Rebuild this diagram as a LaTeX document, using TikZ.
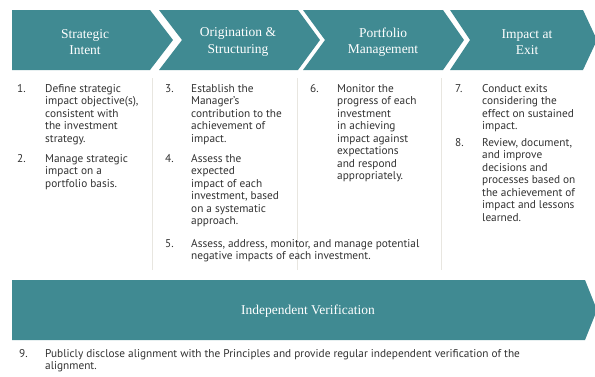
\documentclass[tikz,border=0pt]{standalone}
\usepackage{fontspec}
\setmainfont{PT Sans}
\newfontfamily\headfont{Liberation Serif}
\definecolor{teal1}{RGB}{64,138,146}
\definecolor{bodytxt}{RGB}{50,50,50}
\definecolor{divline}{RGB}{232,230,224}
\newcommand\itemtext[1]{\parbox[t]{300pt}{\raggedright #1}}
\tikzset{
  chev/.style={fill=teal1, draw=none},
  head/.style={text=white, font=\headfont\fontsize{13.5}{16.5}\selectfont, align=center, inner sep=0pt},
  num/.style={anchor=base west, inner sep=0pt, text=bodytxt, font=\fontsize{11.3}{12.5}\selectfont},
  item/.style={anchor=base west, inner sep=0pt, text=bodytxt, font=\fontsize{11.3}{12.5}\selectfont},
  divider/.style={draw=divline, line width=0.8pt}
}
\begin{document}
\begin{tikzpicture}[x=1pt,y=-1pt]
\useasboundingbox (0,0) rectangle (595,376);
% header chevrons
\path[chev] (12,10) -- (150,10) -- (173,40) -- (150,70) -- (12,70) -- cycle;
\path[chev] (159,10) -- (298,10) -- (320,40) -- (298,70) -- (159,70) -- (182,40) -- cycle;
\path[chev] (303,10) -- (443,10) -- (464,40) -- (443,70) -- (303,70) -- (325,40) -- cycle;
\path[chev] (450,10) -- (583,10) -- (597,40) -- (583,70) -- (450,70) -- (470,40) -- cycle;
\node[head] (h1) at (85,42) {Strategic\\Intent};
\node[head] (h2) at (238,42) {Origination \&\\Structuring};
\node[head] (h3) at (383,42) {Portfolio\\Management};
\node[head] (h4) at (527,42) {Impact at\\Exit};
% dividers
\coordinate (d1t) at (152,78); \coordinate (d1b) at (152,270);
\coordinate (d2t) at (297,78); \coordinate (d2b) at (297,270);
\coordinate (d3t) at (441,78); \coordinate (d3b) at (441,270);
\draw[divider] (d1t) -- (d1b);
\draw[divider] (d2t) -- (d2b);
\draw[divider] (d3t) -- (d3b);
% column 1
\node[num] (n1) at (17,92) {1.};
\node[item] (t1) at (45,92) {\itemtext{Define strategic\\impact objective(s),\\consistent with\\the investment\\strategy.}};
\node[num] (n2) at (17,162) {2.};
\node[item] (t2) at (45,162) {\itemtext{Manage strategic\\impact on a\\portfolio basis.}};
% column 2
\node[num] (n3) at (165,92) {3.};
\node[item] (t3) at (191,92) {\itemtext{Establish the\\Manager's\\contribution to the\\achievement of\\impact.}};
\node[num] (n4) at (165,162) {4.};
\node[item] (t4) at (191,162) {\itemtext{Assess the\\expected\\impact of each\\investment, based\\on a systematic\\approach.}};
\node[num] (n5) at (165,247) {5.};
\node[item] (t5) at (191,247) {\itemtext{Assess, address, monitor, and manage potential\\negative impacts of each investment.}};
% column 3
\node[num] (n6) at (310,92) {6.};
\node[item] (t6) at (337,92) {\itemtext{Monitor the\\progress of each\\investment\\in achieving\\impact against\\expectations\\and respond\\appropriately.}};
% column 4
\node[num] (n7) at (455,92) {7.};
\node[item] (t7) at (482,92) {\itemtext{Conduct exits\\considering the\\effect on sustained\\impact.}};
\node[num] (n8) at (455,146) {8.};
\node[item] (t8) at (482,146) {\itemtext{Review, document,\\and improve\\decisions and\\processes based on\\the achievement of\\impact and lessons\\learned.}};
% bottom bar
\path[chev] (12,280) -- (585,280) -- (597,310) -- (585,340) -- (12,340) -- cycle;
\node[head] (hv) at (308,311) {Independent Verification};
\node[num] (n9) at (19,357) {9.};
\node[item] (t9) at (45,357) {\parbox[t]{540pt}{\raggedright Publicly disclose alignment with the Principles and provide regular independent verification of the\\alignment.}};
\end{tikzpicture}
\end{document}
